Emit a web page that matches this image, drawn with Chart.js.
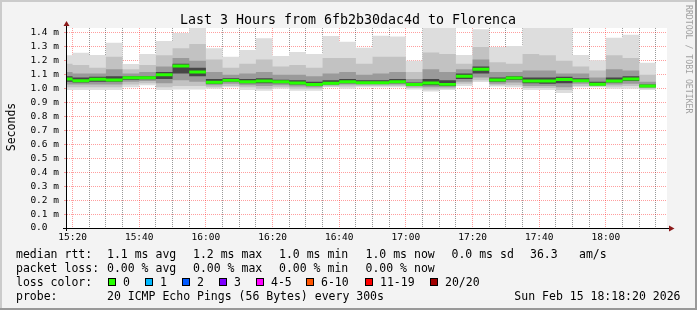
<!DOCTYPE html>
<html><head><meta charset="utf-8">
<script src="https://cdn.jsdelivr.net/npm/chart.js@4.4.0/dist/chart.umd.min.js"></script>
<style>html,body{margin:0;padding:0;background:#f3f3f3;overflow:hidden}</style>
</head><body>
<canvas id="c" width="697" height="310" style="display:block;width:697px;height:310px"></canvas>
<script>
// ---- data ----
const binTimes = ['15:15','15:20','15:25','15:30','15:35','15:40','15:45','15:50','15:55',
  '16:00','16:05','16:10','16:15','16:20','16:25','16:30','16:35','16:40','16:45','16:50','16:55',
  '17:00','17:05','17:10','17:15','17:20','17:25','17:30','17:35','17:40','17:45','17:50','17:55',
  '18:00','18:05','18:10'];
const minV = [0.99,0.99,0.99,0.99,1.01,1.025,0.99,0.995,0.995,1.0,1.01,0.99,0.985,1.0,0.985,0.985,1.01,1.0,1.01,1.01,1.01,0.995,0.98,0.99,1.02,1.048,1.015,1.01,0.99,0.99,0.97,1.01,1.01,1.0,1.0,0.99];
const lo1  = [1.01,1.01,1.01,1.01,1.03,1.04,1.01,1.02,1.02,1.01,1.02,1.01,1.0,1.01,1.0,1.0,1.015,1.015,1.02,1.02,1.02,1.005,0.995,1.0,1.035,1.06,1.025,1.025,1.005,1.005,0.99,1.02,1.015,1.015,1.02,1.0];
const lo2  = [1.03,1.03,1.03,1.03,1.05,1.055,1.04,1.06,1.05,1.025,1.035,1.025,1.02,1.025,1.015,1.01,1.025,1.03,1.03,1.03,1.03,1.015,1.01,1.01,1.05,1.08,1.035,1.045,1.02,1.02,1.01,1.035,1.02,1.03,1.035,1.005];
const lo3  = [1.05,1.045,1.05,1.05,1.065,1.068,1.07,1.11,1.09,1.035,1.05,1.04,1.04,1.04,1.03,1.02,1.032,1.04,1.037,1.037,1.04,1.022,1.025,1.02,1.07,1.11,1.05,1.062,1.04,1.035,1.04,1.048,1.027,1.045,1.055,1.012];
const med  = [1.07,1.057,1.068,1.062,1.078,1.078,1.10,1.163,1.12,1.046,1.06,1.05,1.055,1.05,1.041,1.03,1.039,1.05,1.043,1.043,1.05,1.03,1.041,1.031,1.089,1.139,1.062,1.077,1.055,1.055,1.066,1.057,1.032,1.055,1.07,1.019];
const hi3  = [1.09,1.08,1.085,1.09,1.09,1.09,1.12,1.18,1.15,1.07,1.075,1.07,1.075,1.065,1.06,1.05,1.06,1.07,1.06,1.06,1.07,1.045,1.07,1.06,1.11,1.16,1.08,1.09,1.08,1.08,1.085,1.075,1.05,1.08,1.09,1.03];
const hi2  = [1.12,1.11,1.11,1.14,1.11,1.12,1.16,1.22,1.20,1.12,1.10,1.11,1.12,1.10,1.10,1.09,1.11,1.12,1.10,1.11,1.12,1.07,1.14,1.12,1.14,1.21,1.12,1.12,1.13,1.13,1.11,1.11,1.08,1.14,1.13,1.05];
const hi1  = [1.18,1.17,1.15,1.23,1.14,1.17,1.24,1.29,1.32,1.21,1.15,1.18,1.21,1.16,1.17,1.15,1.22,1.22,1.18,1.23,1.23,1.12,1.26,1.25,1.18,1.30,1.19,1.18,1.25,1.24,1.20,1.16,1.13,1.24,1.22,1.10];
const maxV = [1.24,1.258,1.242,1.33,1.177,1.249,1.342,1.40,1.44,1.29,1.23,1.278,1.362,1.235,1.263,1.249,1.378,1.337,1.294,1.38,1.374,1.20,1.44,1.44,1.242,1.426,1.30,1.306,1.44,1.44,1.44,1.242,1.205,1.366,1.387,1.187];

const xTickLabels = ['15:20','15:40','16:00','16:20','16:40','17:00','17:20','17:40','18:00'];
const yTickValues = [0,0.1,0.2,0.3,0.4,0.5,0.6,0.7,0.8,0.9,1.0,1.1,1.2,1.3,1.4];
const yTickLabels = ['0.0  ','0.1 m','0.2 m','0.3 m','0.4 m','0.5 m','0.6 m','0.7 m','0.8 m','0.9 m','1.0 m','1.1 m','1.2 m','1.3 m','1.4 m'];

const titleText = 'Last 3 Hours from 6fb2b30dac4d to Florenca';
const yTitle = 'Seconds';
const watermark = 'RRDTOOL / TOBI OETIKER';
const rttLabel = 'median rtt:';
const rttStats = ['1.1 ms avg','1.2 ms max','1.0 ms min','1.0 ms now','0.0 ms sd','36.3','am/s'];
const lossLabel = 'packet loss:';
const lossStats = ['0.00 % avg','0.00 % max','0.00 % min','0.00 % now'];
const colorLabel = 'loss color:';
const lossNames = ['0','1','2','3','4-5','6-10','11-19','20/20'];
const lossCols  = ['#26ff00','#00b8ff','#0059ff','#7e00ff','#ff00ff','#ff5500','#ff0000','#a10000'];
const probeLabel = 'probe:';
const probeText = '20 ICMP Echo Pings (56 Bytes) every 300s';
const dateText = 'Sun Feb 15 18:18:20 2026';
const startTime = '15:18:20', endTime = '18:18:20';
const stepMin = 5;

// ---- helpers ----
const toMin = s => { const p = s.split(':').map(Number); return p[0]*60 + p[1] + (p[2]||0)/60; };
const fmt = v => { const r = Math.round(v); return Math.floor(r/60) + ':' + String(r%60).padStart(2,'0'); };
const MED_HALF = 0.0105;
function steps(arr, off) {
  const pts = [];
  binTimes.forEach((t,i) => { const s = toMin(t); const y = arr[i] + (off||0); pts.push({x:s,y:y},{x:s+stepMin,y:y}); });
  return pts;
}
const xMin = toMin(startTime), xMax = toMin(endTime);
const gridMinutes = [];
for (let m = Math.ceil(xMin/stepMin)*stepMin; m < xMax; m += stepMin) gridMinutes.push(m);

const base = { borderWidth: 0, borderColor: 'rgba(0,0,0,0)', pointRadius: 0, pointHoverRadius: 0, tension: 0 };
const datasets = [
  Object.assign({}, base, {data: steps(med, MED_HALF), fill: 1, backgroundColor: lossCols[0]}),
  Object.assign({}, base, {data: steps(med, -MED_HALF), fill: false}),
  Object.assign({}, base, {data: steps(hi3), fill: 3, backgroundColor: '#464646'}),
  Object.assign({}, base, {data: steps(lo3), fill: false}),
  Object.assign({}, base, {data: steps(hi2), fill: 5, backgroundColor: '#9a9a9a'}),
  Object.assign({}, base, {data: steps(lo2), fill: false}),
  Object.assign({}, base, {data: steps(hi1), fill: 7, backgroundColor: '#c2c2c2'}),
  Object.assign({}, base, {data: steps(lo1), fill: false}),
  Object.assign({}, base, {data: steps(maxV), fill: 9, backgroundColor: '#dddddd'}),
  Object.assign({}, base, {data: steps(minV), fill: false}),
];

const PINK = 'rgba(255,0,0,0.38)', GRAY = 'rgba(0,0,0,0.4)';
const MONO = '"DejaVu Sans Mono", monospace';

const deco = {
  id: 'deco',
  beforeDraw(chart) {
    const {ctx, chartArea: a} = chart;
    ctx.save();
    ctx.fillStyle = '#f3f3f3'; ctx.fillRect(0, 0, chart.width, chart.height);
    ctx.fillStyle = '#ffffff'; ctx.fillRect(a.left, a.top, a.right - a.left, a.bottom - a.top);
    ctx.restore();
  },
  afterDraw(chart) {
    const {ctx, chartArea: a} = chart;
    ctx.save();
    ctx.strokeStyle = '#000'; ctx.lineWidth = 1; ctx.setLineDash([]);
    ctx.beginPath();
    ctx.moveTo(a.left - 4, a.bottom + 0.5); ctx.lineTo(a.right + 2, a.bottom + 0.5);
    ctx.moveTo(a.left - 0.5, a.bottom + 3); ctx.lineTo(a.left - 0.5, a.top - 3);
    ctx.stroke();
    ctx.fillStyle = '#8b1a1a';
    ctx.beginPath(); ctx.moveTo(a.left - 0.5, a.top - 7); ctx.lineTo(a.left - 3.5, a.top - 2); ctx.lineTo(a.left + 2.5, a.top - 2); ctx.closePath(); ctx.fill();
    ctx.beginPath(); ctx.moveTo(a.right + 7.5, a.bottom + 0.5); ctx.lineTo(a.right + 2, a.bottom - 2.5); ctx.lineTo(a.right + 2, a.bottom + 3.5); ctx.closePath(); ctx.fill();

    ctx.fillStyle = '#000';
    ctx.font = '13.3px ' + MONO; ctx.textAlign = 'center'; ctx.textBaseline = 'alphabetic';
    ctx.fillText(titleText, 348, 23.5);

    ctx.save();
    ctx.font = '11.5px ' + MONO;
    ctx.translate(15, 127); ctx.rotate(-Math.PI/2);
    ctx.textAlign = 'center'; ctx.fillText(yTitle, 0, 0);
    ctx.restore();

    ctx.save();
    ctx.font = '8.2px ' + MONO; ctx.fillStyle = '#a0a0a0';
    ctx.translate(685.5, 5); ctx.rotate(Math.PI/2);
    ctx.textAlign = 'left'; ctx.fillText(watermark, 0, 0);
    ctx.restore();

    ctx.font = '11.5px ' + MONO; ctx.textAlign = 'left'; ctx.fillStyle = '#000';
    const col = [107, 193, 279, 365.5, 451.5, 530, 579];
    const rows = [258, 272, 286, 300];
    ctx.fillText(rttLabel, 16, rows[0]);
    rttStats.forEach((s,i) => ctx.fillText(s, col[i], rows[0]));
    ctx.fillText(lossLabel, 16, rows[1]);
    lossStats.forEach((s,i) => ctx.fillText(s, col[i], rows[1]));
    ctx.fillText(colorLabel, 16, rows[2]);
    const boxX = [108, 145, 182, 219, 256, 306, 365, 430];
    lossNames.forEach((n,i) => {
      ctx.fillStyle = lossCols[i]; ctx.fillRect(boxX[i], 278, 8, 8);
      ctx.strokeStyle = '#000'; ctx.strokeRect(boxX[i] + 0.5, 278.5, 7, 7);
      ctx.fillStyle = '#000'; ctx.fillText(n, boxX[i] + 15, rows[2]);
    });
    ctx.fillText(probeLabel, 16, rows[3]);
    ctx.fillText(probeText, 107, rows[3]);
    ctx.textAlign = 'right'; ctx.fillText(dateText, 680.5, rows[3]);

    ctx.fillStyle = '#cbcbcb'; ctx.fillRect(0, 0, 697, 2); ctx.fillRect(0, 0, 2, 310);
    ctx.fillStyle = '#999999'; ctx.fillRect(0, 308, 697, 2); ctx.fillRect(695, 0, 2, 310);
    ctx.restore();
  }
};

new Chart(document.getElementById('c'), {
  type: 'line',
  data: { datasets },
  plugins: [deco],
  options: {
    responsive: false, animation: false, devicePixelRatio: 1,
    layout: { padding: { top: 28, right: 30, bottom: 0, left: 0 } },
    plugins: { legend: { display: false }, tooltip: { enabled: false }, title: { display: false } },
    events: [],
    scales: {
      x: {
        type: 'linear', min: xMin, max: xMax, z: 1, offset: false,
        afterBuildTicks: s => { s.ticks = gridMinutes.map(v => ({value: v})); },
        afterFit: s => { s.height = 82; },
        grid: { color: c => (Math.round(c.tick.value) % 20 === 0 ? PINK : GRAY), lineWidth: 1, drawTicks: false },
        border: { display: false, dash: [1,1] },
        ticks: {
          autoSkip: false, maxTicksLimit: 1000, sampleSize: 1000, maxRotation: 0, minRotation: 0, padding: 4, color: '#000',
          font: { family: 'DejaVu Sans Mono', size: 9.5 },
          callback: v => { const l = fmt(v); return xTickLabels.includes(l) ? l : ''; }
        }
      },
      y: {
        type: 'linear', min: 0, max: 200/139.3, z: 1,
        afterBuildTicks: s => { s.ticks = yTickValues.map(v => ({value: v})); },
        afterFit: s => { s.width = 67; },
        grid: { color: PINK, lineWidth: 1, drawTicks: true, tickLength: 3 },
        border: { display: false, dash: [1,1] },
        ticks: {
          autoSkip: false, maxTicksLimit: 1000, padding: 5, color: '#000',
          font: { family: 'DejaVu Sans Mono', size: 9.5 },
          callback: (v, i) => yTickLabels[i]
        }
      }
    }
  }
});
</script>
</body></html>
